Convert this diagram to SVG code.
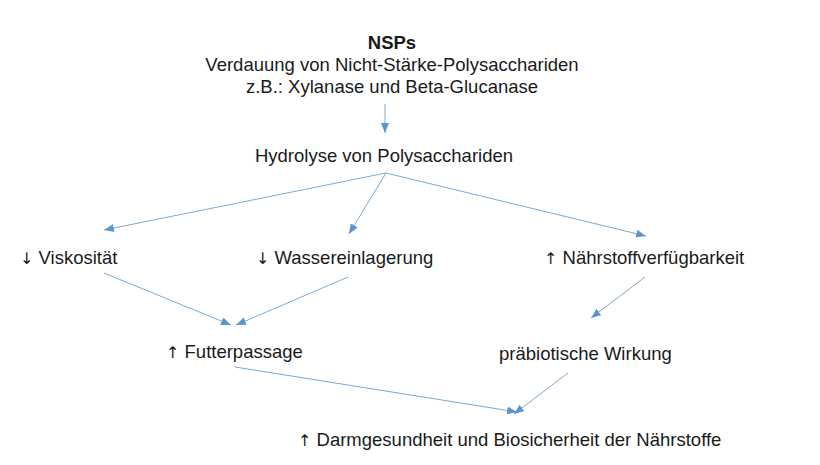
<svg xmlns="http://www.w3.org/2000/svg" width="820" height="465" viewBox="0 0 820 465">
<defs>
<style>
text{font-family:"Liberation Sans",Arial,sans-serif;font-size:18.5px;fill:#1a1a1a}
.b{font-weight:bold}
.c{text-anchor:middle}
.a{font-family:"DejaVu Sans",sans-serif;font-size:16px;font-weight:normal;fill:#1a1a1a}
.e{stroke:#7aa9d2;stroke-width:1;fill:none;marker-end:url(#ah)}
</style>
<marker id="ah" viewBox="0 0 10 8" refX="10" refY="4" markerWidth="10" markerHeight="8" markerUnits="userSpaceOnUse" orient="auto">
<path d="M0,0 L10,4 L0,8 Z" fill="#5b95c9"/>
</marker>
</defs>
<rect width="820" height="465" fill="#fff"/>
<g id="nsps">
<text class="c b" x="392" y="49">NSPs</text>
<text class="c" x="392" y="71">Verdauung von Nicht-Stärke-Polysacchariden</text>
<text class="c" x="392" y="93">z.B.: Xylanase und Beta-Glucanase</text>
</g>
<g id="hydrolyse"><text class="c" x="384" y="162">Hydrolyse von Polysacchariden</text></g>
<g id="viskositaet"><text x="20" y="264"><tspan class="a">↓</tspan> Viskosität</text></g>
<g id="wasser"><text x="256" y="264"><tspan class="a">↓</tspan> Wassereinlagerung</text></g>
<g id="naehrstoff"><text x="544" y="264"><tspan class="a">↑</tspan> Nährstoffverfügbarkeit</text></g>
<g id="futter"><text x="166" y="358"><tspan class="a">↑</tspan> Futterpassage</text></g>
<g id="praebiotisch"><text x="499" y="360">präbiotische Wirkung</text></g>
<g id="darm"><text x="298" y="446"><tspan class="a">↑</tspan> Darmgesundheit und Biosicherheit der Nährstoffe</text></g>
<g id="connectors">
<line class="e" x1="385" y1="104" x2="385" y2="133"/>
<line class="e" x1="386" y1="173" x2="104" y2="230"/>
<line class="e" x1="386" y1="173" x2="349" y2="234"/>
<line class="e" x1="386" y1="173" x2="646" y2="236"/>
<line class="e" x1="104" y1="273" x2="231" y2="325"/>
<line class="e" x1="348" y1="277" x2="236" y2="325"/>
<line class="e" x1="645" y1="277" x2="591" y2="318"/>
<line class="e" x1="235" y1="367" x2="517" y2="412"/>
<line class="e" x1="568" y1="373" x2="514" y2="414"/>
</g>
</svg>
